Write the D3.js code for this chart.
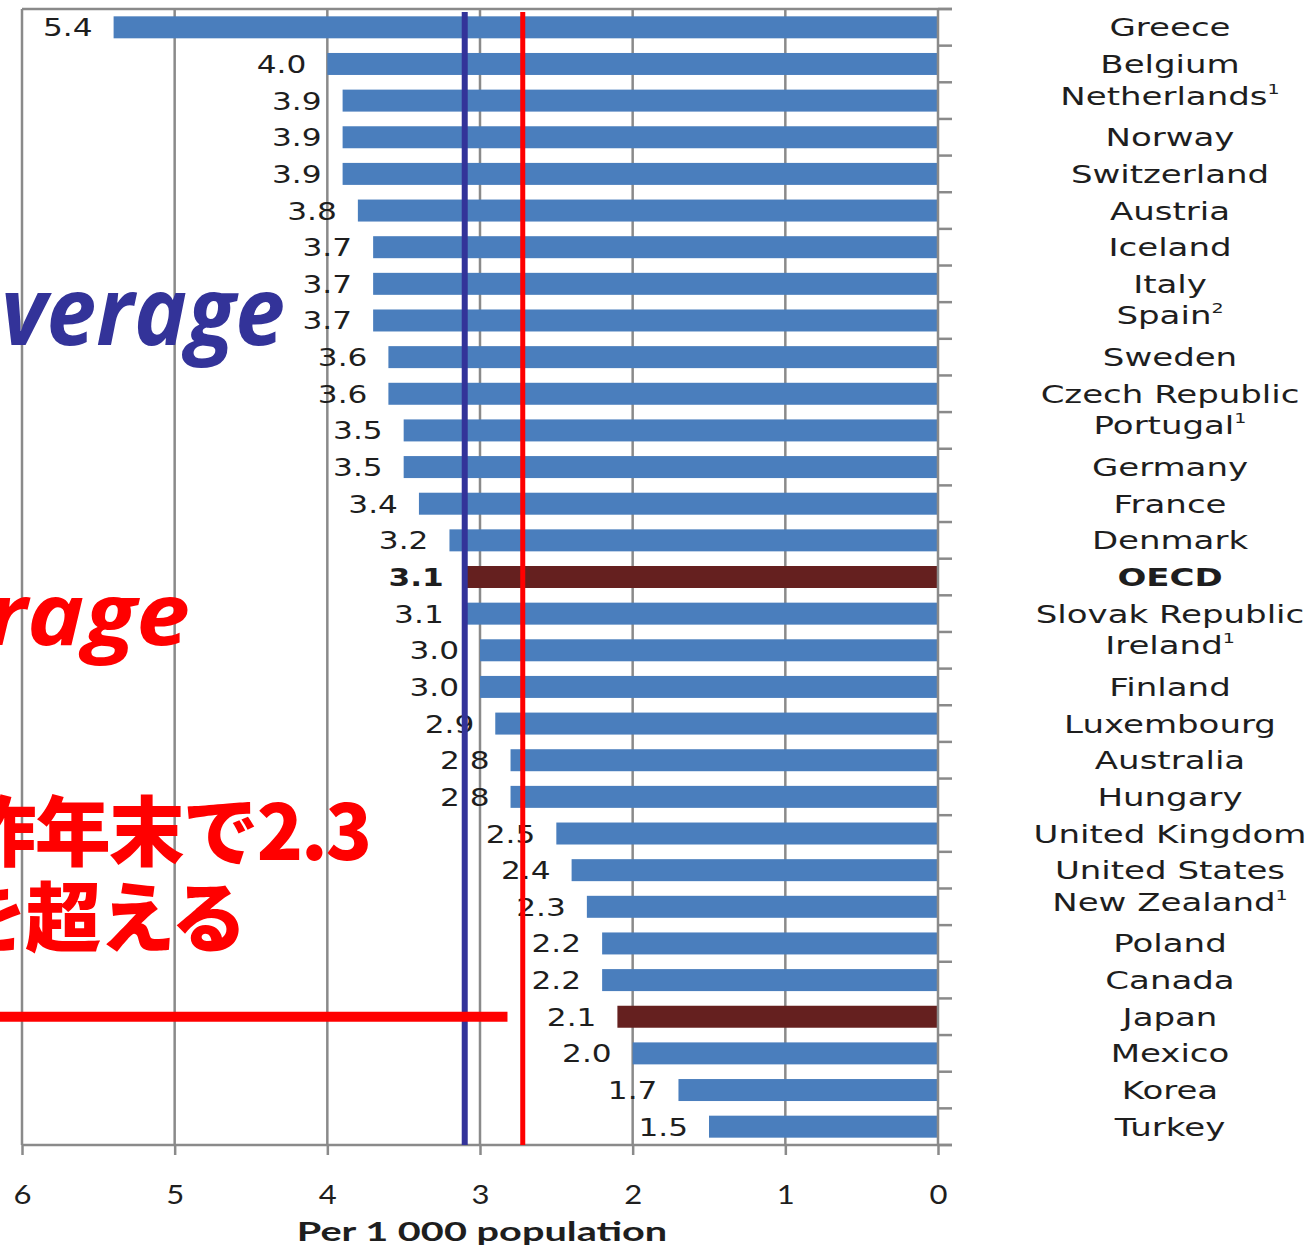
<!DOCTYPE html>
<html>
<head>
<meta charset="utf-8">
<script src="https://cdn.jsdelivr.net/npm/d3@7"></script>
<style>
  html, body { margin: 0; padding: 0; background: #ffffff; }
  svg { display: block; }
</style>
</head>
<body>
<svg id="chart" width="1311" height="1248"></svg>
<script>
// Practising physicians per 1 000 population, by country
const categories = [
  "Greece", "Belgium", "Netherlands", "Norway", "Switzerland", "Austria", "Iceland",
  "Italy", "Spain", "Sweden", "Czech Republic", "Portugal", "Germany", "France",
  "Denmark", "OECD", "Slovak Republic", "Ireland", "Finland", "Luxembourg",
  "Australia", "Hungary", "United Kingdom", "United States", "New Zealand",
  "Poland", "Canada", "Japan", "Mexico", "Korea", "Turkey"
];
const values = [
  5.4, 4.0, 3.9, 3.9, 3.9, 3.8, 3.7, 3.7, 3.7, 3.6, 3.6, 3.5, 3.5, 3.4, 3.2,
  3.1, 3.1, 3.0, 3.0, 2.9, 2.8, 2.8, 2.5, 2.4, 2.3, 2.2, 2.2, 2.1, 2.0, 1.7, 1.5
];
const footnotes = [
  "", "", "1", "", "", "", "", "", "2", "", "", "1", "", "", "",
  "", "", "1", "", "", "", "", "", "", "1", "", "", "", "", "", ""
];
const highlighted = ["OECD", "Japan"];
const xTicks = [6, 5, 4, 3, 2, 1, 0];
const axisTitle = "Per 1 000 population";

// Reference lines and notes drawn over the chart
const oecdAverage = 3.1;
const redLineValue = 2.72;
const markerRow = "Japan";
const markerEnd = 2.82;
const blueNote = "Average";
const redNote = "Average";
const noteLines = ["昨年末で2.3", "を超える"];

const svg = d3.select("#chart");
const plotLeft = 22, plotRight = 938, plotTop = 9, plotBottom = 1145;

const x = d3.scaleLinear().domain([0, 6]).range([plotRight, plotLeft]);
const y = d3.scaleBand().domain(categories).range([plotTop, plotBottom])
  .paddingInner(0.4).paddingOuter(0.2);

const gridColor = "#8a8a8a";
const barBlue = "#4a7ebd";
const barRed = "#65201f";

function stretched(g, px, py, sx) {
  return g.append("text").attr("transform", `translate(${px},${py}) scale(${sx},1)`);
}

// frame and vertical gridlines
const grid = svg.append("g");
grid.selectAll("line.v").data(xTicks.filter(d => d !== 0)).join("line")
  .attr("x1", d => x(d)).attr("x2", d => x(d))
  .attr("y1", plotTop).attr("y2", plotBottom)
  .attr("stroke", gridColor).attr("stroke-width", 2.5);
grid.append("line")
  .attr("x1", plotLeft).attr("x2", plotRight + 14).attr("y1", plotTop).attr("y2", plotTop)
  .attr("stroke", gridColor).attr("stroke-width", 2.5);

// bars
svg.append("g").selectAll("rect").data(categories).join("rect")
  .attr("x", (d, i) => x(values[i]))
  .attr("y", d => y(d))
  .attr("width", (d, i) => x(0) - x(values[i]))
  .attr("height", y.bandwidth())
  .attr("fill", d => highlighted.includes(d) ? barRed : barBlue);

// value labels to the left of each bar
const valG = svg.append("g")
  .attr("font-family", "'DejaVu Sans', Verdana, sans-serif")
  .attr("font-size", 24).attr("fill", "#1e1e1e");
categories.forEach((c, i) => {
  stretched(valG, x(values[i]) - 21, y(c) + y.bandwidth() / 2 + 9, 1.3)
    .attr("text-anchor", "end")
    .attr("font-weight", c === "OECD" ? "bold" : "normal")
    .text(values[i].toFixed(1));
});

// right-hand category axis
const yAxisG = svg.append("g");
yAxisG.append("line")
  .attr("x1", plotRight).attr("x2", plotRight).attr("y1", plotTop).attr("y2", plotBottom)
  .attr("stroke", gridColor).attr("stroke-width", 2.5);
const step = y.step();
yAxisG.selectAll("line.t").data(d3.range(categories.length + 1)).join("line")
  .attr("x1", plotRight).attr("x2", plotRight + 14)
  .attr("y1", k => plotTop + k * step).attr("y2", k => plotTop + k * step)
  .attr("stroke", gridColor).attr("stroke-width", 2.5);

// category names
const nameG = svg.append("g")
  .attr("font-family", "'DejaVu Sans', Verdana, sans-serif")
  .attr("font-size", 25).attr("fill", "#1e1e1e");
categories.forEach((c, i) => {
  const cy = y(c) + y.bandwidth() / 2 + 9 - (footnotes[i] ? 5 : 0);
  const t = stretched(nameG, 1170, cy, 1.36)
    .attr("text-anchor", "middle")
    .attr("font-weight", c === "OECD" ? "bold" : "normal");
  t.append("tspan").text(c);
  if (footnotes[i]) {
    t.append("tspan").attr("font-size", 14).attr("dy", -11).text(footnotes[i]);
  }
});

// bottom value axis
const xAxisG = svg.append("g")
  .attr("transform", `translate(0,${plotBottom})`)
  .call(d3.axisBottom(x).tickValues(xTicks).tickSize(10).tickPadding(30).tickFormat(d3.format("d")));
xAxisG.select(".domain").remove();
xAxisG.append("line").attr("x1", plotLeft).attr("x2", plotRight + 14)
  .attr("stroke", gridColor).attr("stroke-width", 2.5);
xAxisG.selectAll(".tick line").attr("stroke", gridColor).attr("stroke-width", 2.5);
xAxisG.selectAll(".tick text")
  .attr("font-family", "Lato, 'Open Sans', sans-serif")
  .attr("font-size", 27).attr("fill", "#1e1e1e")
  .attr("transform", "scale(1.15,1)");

stretched(svg, 482, 1241, 1.47)
  .attr("text-anchor", "middle")
  .attr("font-family", "Lato, 'Open Sans', sans-serif")
  .attr("font-weight", "bold").attr("font-size", 27).attr("fill", "#1e1e1e")
  .text(axisTitle);

// reference lines
svg.append("line")
  .attr("x1", x(oecdAverage)).attr("x2", x(oecdAverage))
  .attr("y1", 12).attr("y2", plotBottom)
  .attr("stroke", "#333399").attr("stroke-width", 6);
svg.append("line")
  .attr("x1", x(redLineValue)).attr("x2", x(redLineValue))
  .attr("y1", 12).attr("y2", plotBottom)
  .attr("stroke", "#ff0000").attr("stroke-width", 5);
svg.append("line")
  .attr("x1", 0).attr("x2", x(markerEnd))
  .attr("y1", y(markerRow) + y.bandwidth() / 2).attr("y2", y(markerRow) + y.bandwidth() / 2)
  .attr("stroke", "#ff0000").attr("stroke-width", 10);

// notes
stretched(svg, 285, 345, 0.93)
  .attr("text-anchor", "end")
  .attr("font-family", "'Open Sans', sans-serif")
  .attr("font-weight", "bold").attr("font-style", "italic")
  .attr("font-size", 96).attr("fill", "#333399")
  .text(blueNote);
stretched(svg, 190, 645, 1.12)
  .attr("text-anchor", "end")
  .attr("font-family", "'Open Sans', sans-serif")
  .attr("font-weight", "bold").attr("font-style", "italic")
  .attr("font-size", 86).attr("fill", "#ff0000")
  .text(redNote);
noteLines.forEach((line, i) => {
  svg.append("text")
    .attr("x", [370, 245][i]).attr("y", [860, 946][i])
    .attr("text-anchor", "end")
    .attr("font-family", "'Noto Sans CJK JP', sans-serif")
    .attr("font-weight", 900).attr("font-size", 76).attr("fill", "#ff0000")
    .attr("letter-spacing", -2)
    .text(line);
});
</script>
</body>
</html>
